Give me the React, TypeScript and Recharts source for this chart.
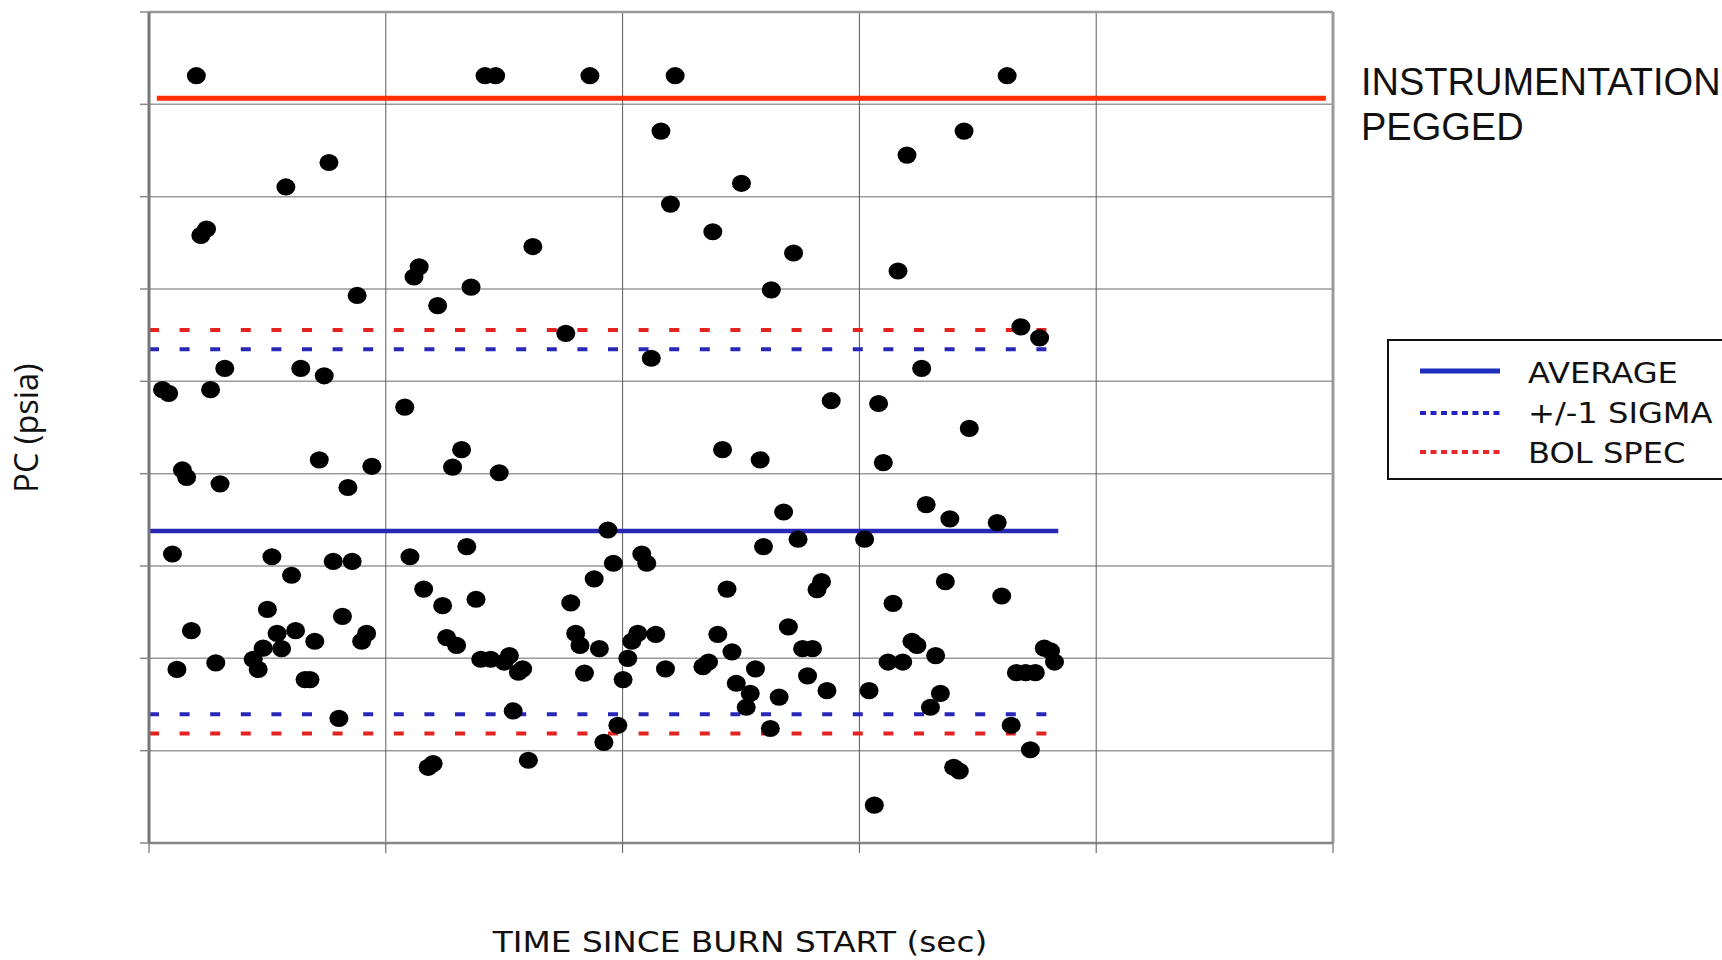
import React from 'react';
import {
  ScatterChart, Scatter, XAxis, YAxis, CartesianGrid, ReferenceLine, Legend,
} from 'recharts';

// axis grid (no labels on the original, just gridlines)
const X_TICKS = [0, 10, 20, 30, 40, 50];
const Y_TICKS = [0, 10, 20, 30, 40, 50, 60, 70, 80, 90];

// readings that hit the top of the transducer range
const peggedTime = [2.0, 14.19, 14.64, 18.62, 22.22, 36.24];
const peggedPc = [83.1, 83.1, 83.1, 83.1, 83.1, 83.1];

// readings above the average line
const upperTime = [
  7.60, 5.78, 2.43, 2.19, 11.41, 11.19, 8.79, 12.19, 3.20, 6.41,
  7.40, 0.57, 0.83, 2.60, 10.80, 1.41, 1.59, 3.00, 7.19, 8.40,
  9.41, 13.20, 12.82, 14.79, 13.60, 16.21, 17.60, 21.21, 21.62, 25.02,
  22.02, 23.81, 24.22, 25.81, 26.28, 34.42, 32.01, 27.22, 31.63, 36.82,
  37.61, 32.63, 28.81, 30.81, 34.64, 31.01,
];
const upperPc = [
  73.7, 71.05, 66.5, 65.8, 62.4, 61.3, 59.3, 58.2, 51.4, 51.4,
  50.6, 49.1, 48.7, 49.1, 47.2, 40.4, 39.6, 38.9, 41.5, 38.5,
  40.8, 42.6, 40.7, 40.1, 60.2, 64.6, 55.2, 52.5, 77.1, 71.45,
  69.2, 66.2, 42.6, 41.5, 59.9, 77.1, 74.5, 63.9, 61.95, 55.9,
  54.7, 51.4, 47.9, 47.6, 44.9, 41.2,
];

// readings around / below the average line
const lowerTime = [
  19.38, 26.80, 32.82, 33.82, 35.82, 27.41, 30.22, 0.99, 5.19, 7.78,
  8.58, 11.02, 13.42, 25.95, 20.81, 21.02, 19.61, 6.02, 11.60, 12.40,
  5.00, 1.79, 8.17, 5.41, 6.19, 7.00, 9.19, 8.98, 4.82, 5.60,
  4.40, 2.82, 1.18, 4.61, 6.59, 6.80, 12.57, 12.99, 8.02, 12.00,
  11.79, 13.81, 18.80, 17.81, 24.41, 18.02, 18.20, 19.02, 20.64, 20.39,
  21.40, 20.22, 20.02, 18.39, 21.81, 14.01, 14.43, 15.22, 14.99, 15.78,
  15.60, 15.38, 16.02, 19.80, 19.21, 24.02, 24.62, 23.63, 23.39, 25.61,
  24.80, 25.39, 25.22, 26.24, 28.40, 28.21, 33.63, 36.01, 31.42, 27.00,
  27.60, 28.02, 32.22, 32.43, 33.22, 37.81, 38.07, 38.24, 31.21, 31.83,
  27.81, 28.63, 26.61, 30.41, 33.42, 33.00, 36.63, 37.02, 37.43, 36.41,
  37.22, 33.98, 34.22, 30.63,
];
const lowerPc = [
  33.9, 35.85, 36.65, 35.1, 34.7, 32.9, 32.9, 31.3, 31.0, 30.5,
  30.5, 31.0, 32.1, 32.1, 31.3, 30.3, 30.3, 29.0, 27.5, 25.7,
  25.3, 23.0, 24.55, 22.7, 23.0, 21.85, 22.7, 21.85, 21.1, 21.05,
  19.9, 19.5, 18.8, 18.8, 17.7, 17.7, 22.25, 21.4, 13.5, 8.6,
  8.2, 26.4, 28.6, 26.0, 27.5, 22.7, 21.4, 21.05, 22.7, 21.85,
  22.6, 20.0, 17.7, 18.4, 18.85, 19.9, 19.9, 20.3, 19.6, 18.85,
  18.5, 14.3, 8.96, 12.75, 10.9, 22.6, 20.7, 19.6, 19.1, 18.85,
  17.3, 16.2, 14.7, 12.4, 28.3, 27.45, 28.3, 26.75, 25.96, 23.4,
  21.05, 21.05, 21.85, 21.4, 20.3, 21.1, 20.8, 19.6, 19.6, 19.6,
  18.1, 16.5, 15.8, 16.5, 16.2, 14.7, 18.45, 18.45, 18.45, 12.75,
  10.1, 8.2, 7.8, 4.1,
];

// reference levels
const PEG_LIMIT = 80.66;
const PEG_SPAN = [0.33, 49.7];
const AVERAGE_PC = 33.8;
const AVERAGE_END = 38.4;
const SIGMA_LIMITS = [13.94, 53.47];
const BOL_LIMITS = [11.85, 55.56];
const BAND_END = 38.3;

const LEGEND_ITEMS = [
  { label: 'AVERAGE', color: '#1f2dbf', dash: undefined },
  { label: '+/-1 SIGMA', color: '#2323c4', dash: '6 4.5' },
  { label: 'BOL SPEC', color: '#e8262c', dash: '6 4.5' },
];

const toPoints = (xs: number[], ys: number[]) => xs.map((t, i) => ({ t, pc: ys[i] }));

const peggedData = toPoints(peggedTime, peggedPc);
const readingData = [...toPoints(upperTime, upperPc), ...toPoints(lowerTime, lowerPc)];

const Blob = (props: any) => {
  const { cx, cy } = props;
  if (cx == null || cy == null) return null;
  return <ellipse cx={cx} cy={cy} rx={9.5} ry={8.6} fill="#000" />;
};

const LegendBox = () => {
  const lineY = [32, 74, 113];
  const baseY = [44, 84, 124];
  return (
    <svg width={400} height={141}>
      <rect x={1} y={1} width={430} height={139} fill="#fff" stroke="#111" strokeWidth={2} />
      {LEGEND_ITEMS.map((it, i) => (
        <g key={it.label}>
          <line x1={33} x2={113} y1={lineY[i]} y2={lineY[i]} stroke={it.color}
            strokeWidth={it.dash ? 4 : 5} strokeDasharray={it.dash} />
          <text transform={`translate(141,${baseY[i]}) scale(1.17,1)`}
            fontFamily="DejaVu Sans" fontSize={27.5} fill="#111">{it.label}</text>
        </g>
      ))}
    </svg>
  );
};

const seg = (x1: number, x2: number, y: number) => [{ x: x1, y }, { x: x2, y }];

export default function App() {
  return (
    <div style={{ position: 'absolute', left: 0, top: 0, width: 1722, height: 960, overflow: 'hidden', background: '#fff' }}>
      <ScatterChart width={1722} height={960} margin={{ top: 12, right: 389, bottom: 87, left: 89 }}>
        <CartesianGrid vertical={false} stroke="#9a9a9a" strokeWidth={1.5} />
        <CartesianGrid horizontal={false} stroke="#5a5a5a" strokeWidth={1} />
        <XAxis type="number" dataKey="t" domain={[0, 50]} ticks={X_TICKS} interval={0}
          height={30} tickSize={10} tickFormatter={() => ''}
          tickLine={{ stroke: '#555', strokeWidth: 1 }} axisLine={{ stroke: '#888', strokeWidth: 2.5 }} />
        <YAxis type="number" dataKey="pc" domain={[0, 90]} ticks={Y_TICKS} interval={0}
          width={60} tickSize={9} tickFormatter={() => ''}
          tickLine={{ stroke: '#888', strokeWidth: 1.5 }} axisLine={{ stroke: '#777', strokeWidth: 3 }} />
        <ReferenceLine y={90} stroke="#9a9a9a" strokeWidth={2.5} />
        <ReferenceLine x={50} stroke="#9a9a9a" strokeWidth={3} />

        <ReferenceLine segment={seg(PEG_SPAN[0], PEG_SPAN[1], PEG_LIMIT)} stroke="#ff2f00" strokeWidth={5} />
        <ReferenceLine segment={seg(0, AVERAGE_END, AVERAGE_PC)} stroke="#2828b4" strokeWidth={4.5} />
        <ReferenceLine segment={seg(0, BAND_END, BOL_LIMITS[1])} stroke="#e2231f" strokeWidth={4} strokeDasharray="10 20.6" />
        <ReferenceLine segment={seg(0, BAND_END, SIGMA_LIMITS[1])} stroke="#2727b8" strokeWidth={4} strokeDasharray="10 20.6" />
        <ReferenceLine segment={seg(0, BAND_END, SIGMA_LIMITS[0])} stroke="#2727b8" strokeWidth={4} strokeDasharray="10 20.6" />
        <ReferenceLine segment={seg(0, BAND_END, BOL_LIMITS[0])} stroke="#e2231f" strokeWidth={4} strokeDasharray="10 20.6" />

        <Scatter data={readingData} fill="#000" shape={<Blob />} isAnimationActive={false} />
        <Scatter data={peggedData} fill="#000" shape={<Blob />} isAnimationActive={false} />

        <Legend layout="vertical" align="center" verticalAlign="middle"
          wrapperStyle={{ position: 'absolute', left: 1387, top: 339, width: 400, height: 141 }}
          content={() => <LegendBox />} />
      </ScatterChart>

      <svg width={1722} height={960} style={{ position: 'absolute', left: 0, top: 0, pointerEvents: 'none' }}>
        <text transform="translate(740,952) scale(1.17,1)" textAnchor="middle"
          fontFamily="DejaVu Sans" fontSize={28} fill="#111">TIME SINCE BURN START (sec)</text>
        <text transform="translate(38,428) rotate(-90)" textAnchor="middle"
          fontFamily="Open Sans" fontSize={32.5} fill="#111">PC (psia)</text>
        <text x={1361} y={95} fontFamily="Liberation Sans" fontSize={38} fill="#111">INSTRUMENTATION</text>
        <text x={1361} y={140} fontFamily="Liberation Sans" fontSize={38} fill="#111">PEGGED</text>
      </svg>
    </div>
  );
}
